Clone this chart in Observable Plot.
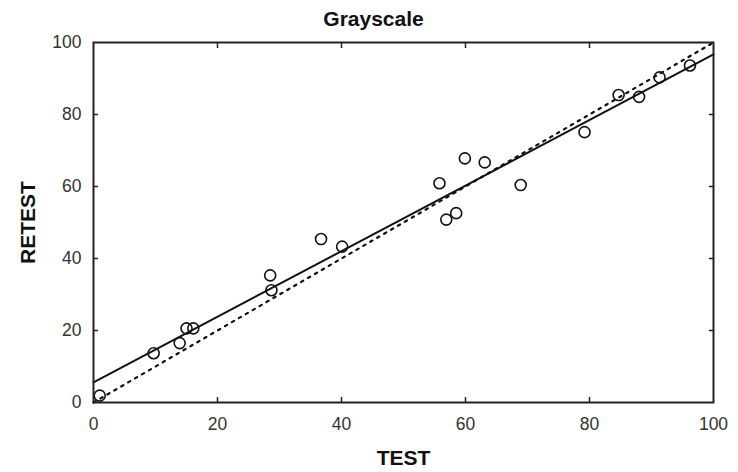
<!DOCTYPE html>
<html>
<head>
<meta charset="utf-8">
<script src="https://cdn.jsdelivr.net/npm/d3@7"></script>
<script src="https://cdn.jsdelivr.net/npm/@observablehq/plot@0.6"></script>
<style>
  body { margin: 0; background: #fff; }
</style>
</head>
<body>
<div id="chart"></div>
<script>
const testValues   = [1.0, 9.7, 13.9, 15.0, 16.1, 28.5, 28.7, 36.7, 40.1, 55.8, 56.9, 58.5, 59.9, 63.1, 68.9, 79.2, 84.7, 88.0, 91.3, 96.2];
const retestValues = [1.9, 13.7, 16.5, 20.6, 20.6, 35.3, 31.2, 45.4, 43.3, 60.9, 50.8, 52.6, 67.8, 66.7, 60.4, 75.1, 85.4, 84.9, 90.3, 93.6];
const fitX = [0, 100];
const fitY = [5.6, 96.7];
const identityX = [0, 100];
const identityY = [0, 100];
const xTicks = [0, 20, 40, 60, 80, 100];
const yTicks = [0, 20, 40, 60, 80, 100];
const innerTicks = [20, 40, 60, 80];
const titleText = "Grayscale";
const xLabel = "TEST";
const yLabel = "RETEST";

const points = testValues.map((t, i) => ({test: t, retest: retestValues[i]}));
const fit = fitX.map((x, i) => ({x, y: fitY[i]}));
const ident = identityX.map((x, i) => ({x, y: identityY[i]}));

const chart = Plot.plot({
  width: 738,
  height: 472,
  marginLeft: 93,
  marginRight: 25,
  marginTop: 42,
  marginBottom: 70,
  style: {fontFamily: "Liberation Sans, Arial, sans-serif", fontSize: "17px", color: "#222", background: "#fff"},
  x: {domain: [0, 100]},
  y: {domain: [0, 100]},
  marks: [
    Plot.line(ident, {x: "x", y: "y", stroke: "#111", strokeWidth: 2.2, strokeDasharray: "2.5,5.5"}),
    Plot.line(fit, {x: "x", y: "y", stroke: "#111", strokeWidth: 2}),
    Plot.dot(points, {x: "test", y: "retest", r: 5.5, stroke: "#111", strokeWidth: 1.6, fill: "none"}),
    Plot.axisX({ticks: xTicks, tickSize: 0, tickPadding: 15, label: xLabel, labelAnchor: "center", labelOffset: 62, labelArrow: "none", fontSize: 17.5, fill: "#333"}),
    Plot.axisY({ticks: yTicks, tickSize: 0, tickPadding: 12, label: yLabel, labelAnchor: "center", labelOffset: 73, labelArrow: "none", fontSize: 17.5, fill: "#333"}),
    Plot.axisX({ticks: innerTicks, anchor: "bottom", tickSize: -5, text: null, label: null, stroke: "#222", strokeWidth: 1.5}),
    Plot.axisX({ticks: innerTicks, anchor: "top", tickSize: -5, text: null, label: null, stroke: "#222", strokeWidth: 1.5}),
    Plot.axisY({ticks: innerTicks, anchor: "left", tickSize: -5, text: null, label: null, stroke: "#222", strokeWidth: 1.5}),
    Plot.axisY({ticks: innerTicks, anchor: "right", tickSize: -5, text: null, label: null, stroke: "#222", strokeWidth: 1.5}),
    Plot.frame({stroke: "#222", strokeWidth: 2}),
    Plot.text([titleText], {frameAnchor: "top", text: d => d, dx: -30, dy: -17, lineAnchor: "bottom", fontSize: 21, fontWeight: "bold", fill: "#111", clip: false})
  ]
});

chart.querySelectorAll("g[aria-label='x-axis label'] text, g[aria-label='y-axis label'] text").forEach(t => {
  t.setAttribute("font-weight", "bold");
  t.setAttribute("font-size", "21");
  t.setAttribute("fill", "#111");
});
document.getElementById("chart").appendChild(chart);
</script>
</body>
</html>
